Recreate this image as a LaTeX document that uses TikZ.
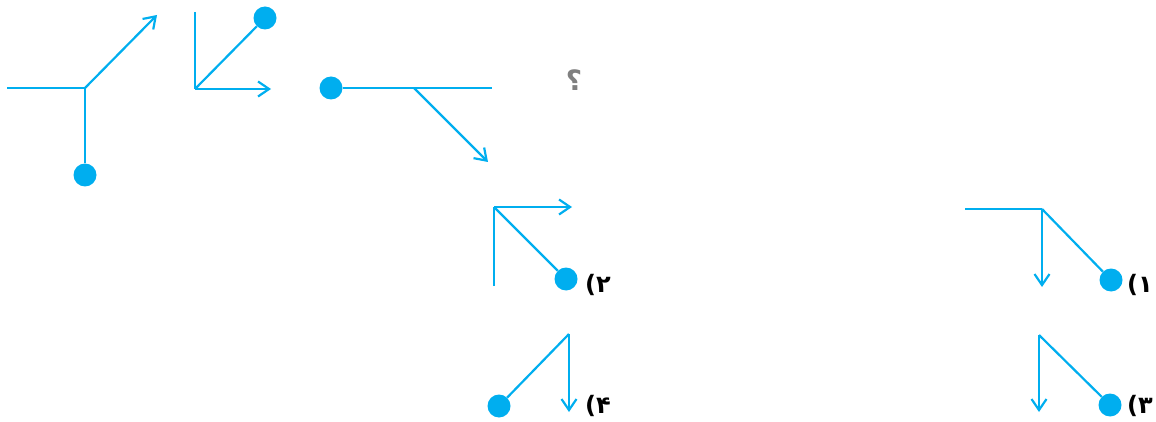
\documentclass[tikz,border=0pt]{standalone}
\usepackage{fontspec}
\newfontfamily\labfont{DejaVu Sans}
\usetikzlibrary{arrows.meta}
\definecolor{ln}{HTML}{00AEEF}
\definecolor{qm}{HTML}{808080}
\tikzset{
  seg/.style={draw=ln, line width=2.2pt},
  arr/.style={seg, -{Straight Barb[length=11pt,width=15pt,line width=2.2pt]}},
  dot/.style={circle, fill=ln, draw=none, minimum size=23pt, inner sep=0pt},
  lab/.style={font=\labfont\bfseries\fontsize{24}{26}\selectfont, text=black, inner sep=0pt},
}
\begin{document}
\begin{tikzpicture}[x=1pt,y=-1pt]
\useasboundingbox (0,0) rectangle (1156,422);
% figure 1
\coordinate (a0) at (7,88);
\coordinate (a1) at (85,88);
\coordinate (a2) at (157,15);
\node[dot] (ad) at (85,175) {};
\draw[seg] (a0) -- (a1);
\draw[seg] (a1) -- (ad);
\draw[arr] (a1) -- (a2);
% figure 2
\coordinate (b0) at (195,12);
\coordinate (b1) at (195,89);
\coordinate (b2) at (271,89);
\node[dot] (bd) at (265,18) {};
\draw[seg] (b0) -- (b1);
\draw[arr] (b1) -- (b2);
\draw[seg] (b1) -- (bd);
% figure 3
\node[dot] (cd) at (331,88) {};
\coordinate (c1) at (414,88);
\coordinate (c2) at (492,88);
\coordinate (c3) at (488,162);
\draw[seg] (cd) -- (c2);
\draw[arr] (c1) -- (c3);
% question mark
\node[font=\labfont\bfseries\fontsize{28}{30}\selectfont, text=qm, inner sep=0pt] (q) at (574,80) {؟};
% option 2
\coordinate (e0) at (494,286);
\coordinate (e1) at (494,207);
\coordinate (e2) at (572,207);
\node[dot] (ed) at (566,279) {};
\draw[seg] (e0) -- (e1);
\draw[arr] (e1) -- (e2);
\draw[seg] (e1) -- (ed);
\node[lab] (l2) at (598,285) {(۲};
% option 4
\coordinate (f1) at (569,334);
\coordinate (f2) at (569,412);
\node[dot] (fd) at (499,406) {};
\draw[arr] (f1) -- (f2);
\draw[seg] (f1) -- (fd);
\node[lab] (l4) at (598,406) {(۴};
% option 1
\coordinate (g0) at (965,209);
\coordinate (g1) at (1042,209);
\coordinate (g2) at (1042,287);
\node[dot] (gd) at (1111,280) {};
\draw[seg] (g0) -- (g1);
\draw[arr] (g1) -- (g2);
\draw[seg] (g1) -- (gd);
\node[lab] (l1) at (1140,285) {(۱};
% option 3
\coordinate (h1) at (1039,335);
\coordinate (h2) at (1039,412);
\node[dot] (hd) at (1110,405) {};
\draw[arr] (h1) -- (h2);
\draw[seg] (h1) -- (hd);
\node[lab] (l3) at (1140,406) {(۳};
\end{tikzpicture}
\end{document}
